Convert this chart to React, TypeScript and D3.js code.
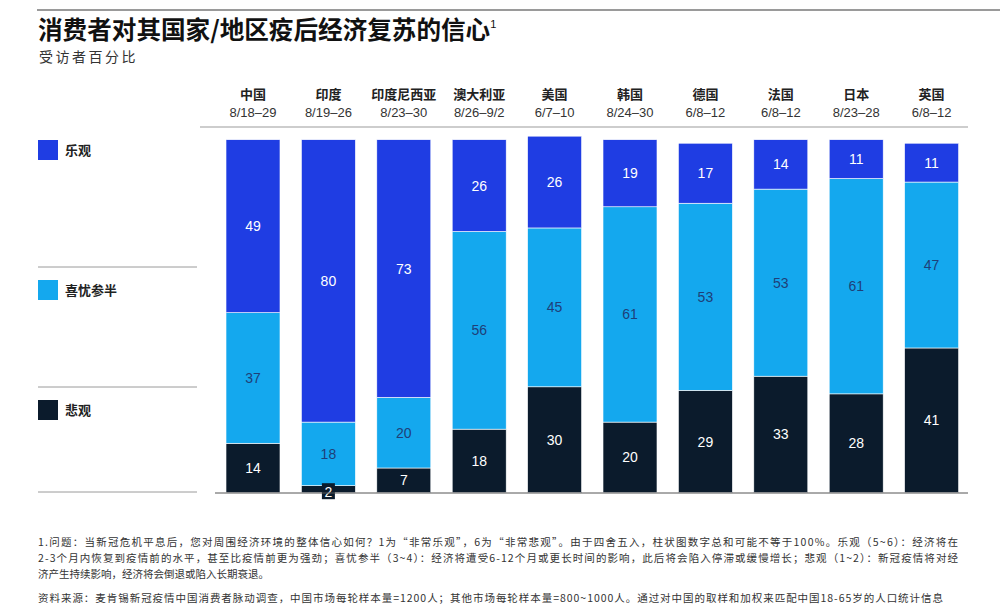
import React from "react";
import * as d3 from "d3";

const countries = ["中国", "印度", "印度尼西亚", "澳大利亚", "美国", "韩国", "德国", "法国", "日本", "英国"];
const dates = ["8/18–29", "8/19–26", "8/23–30", "8/26–9/2", "6/7–10", "8/24–30", "6/8–12", "6/8–12", "8/23–28", "6/8–12"];
const pessimistic = [14, 2, 7, 18, 30, 20, 29, 33, 28, 41];
const mixed = [37, 18, 20, 56, 45, 61, 53, 53, 61, 47];
const optimistic = [49, 80, 73, 26, 26, 19, 17, 14, 11, 11];
const seriesNames = ["乐观", "喜忧参半", "悲观"];
const footnotes = [
  "1.问题：当新冠危机平息后，您对周围经济环境的整体信心如何？1为“非常乐观”，6为“非常悲观”。由于四舍五入，柱状图数字总和可能不等于100%。乐观（5~6）：经济将在",
  "2-3个月内恢复到疫情前的水平，甚至比疫情前更为强劲；喜忧参半（3~4）：经济将遭受6-12个月或更长时间的影响，此后将会陷入停滞或缓慢增长；悲观（1~2）：新冠疫情将对经",
  "济产生持续影响，经济将会倒退或陷入长期衰退。",
];
const source = "资料来源：麦肯锡新冠疫情中国消费者脉动调查，中国市场每轮样本量=1200人；其他市场每轮样本量=800~1000人。通过对中国的取样和加权来匹配中国18-65岁的人口统计信息";

const COLORS = { opt: "#1f3de3", mix: "#14a8ee", pes: "#0b1b2c" };
const CJK = "'Noto Sans CJK SC', 'Noto Sans', sans-serif";
const LAT = "'Liberation Sans', Arial, sans-serif";

export default function App() {
  const x = d3.scaleBand<number>().domain(d3.range(countries.length)).range([215.3, 969.3]).paddingInner(0.284).paddingOuter(0.142);
  const y = d3.scaleLinear().domain([0, 100]).range([492.7, 139.7]);
  const bw = x.bandwidth();

  const segs: any[] = [];
  countries.forEach((_, i) => {
    const vals = [
      { v: pessimistic[i], c: COLORS.pes, t: "#ffffff", k: "pes" },
      { v: mixed[i], c: COLORS.mix, t: "#1f3f78", k: "mix" },
      { v: optimistic[i], c: COLORS.opt, t: "#ffffff", k: "opt" },
    ];
    let acc = 0;
    vals.forEach((s) => {
      segs.push({ i, y0: acc, y1: acc + s.v, ...s });
      acc += s.v;
    });
  });

  const legendTops = [140, 280, 400];
  const legendColors = [COLORS.opt, COLORS.mix, COLORS.pes];
  const sepYs = [267, 387, 492];

  return (
    <svg width={1000} height={612} style={{ position: "absolute", left: 0, top: 0, background: "#fff" }}>
      <line x1={37} x2={1000} y1={10} y2={10} stroke="#9a9a9a" strokeWidth={2} />
      <text x={38} y={39} fontFamily={CJK} fontWeight={700} fontSize={24.6} fill="#111">
        消费者对其国家/地区疫后经济复苏的信心
        <tspan fontSize={11} fontWeight={400} dy={-11} fontFamily={LAT}>1</tspan>
      </text>
      <text x={39} y={62} fontFamily={CJK} fontSize={14} letterSpacing={2.5} fill="#333">受访者百分比</text>

      {countries.map((c, i) => (
        <g key={c}>
          <text x={x(i)! + bw / 2} y={99} textAnchor="middle" fontFamily={CJK} fontWeight={700} fontSize={13} fill="#222">{c}</text>
          <text x={x(i)! + bw / 2} y={117} textAnchor="middle" fontFamily={LAT} fontSize={13} fill="#333">{dates[i]}</text>
        </g>
      ))}
      <line x1={200} x2={968} y1={127} y2={127} stroke="#bdbdbd" strokeWidth={1.5} />

      {seriesNames.map((n, k) => (
        <g key={n}>
          <rect x={38} y={legendTops[k]} width={20} height={20} fill={legendColors[k]} />
          <text x={65} y={legendTops[k] + 15} fontFamily={CJK} fontWeight={700} fontSize={13} fill="#222">{n}</text>
          <line x1={38} x2={197} y1={sepYs[k]} y2={sepYs[k]} stroke="#9a9a9a" strokeWidth={1} />
        </g>
      ))}

      {segs.map((s, j) => (
        <rect key={j} x={x(s.i)} y={y(s.y1)} width={bw} height={y(s.y0) - y(s.y1)} fill={s.c} stroke="#fff" strokeWidth={0.6} />
      ))}
      {segs.map((s, j) => {
        const cx = x(s.i)! + bw / 2;
        const h = y(s.y0) - y(s.y1);
        if (h < 15) {
          const cy = y(s.y0) - 1;
          return (
            <g key={"l" + j}>
              <rect x={cx - 6.5} y={cy - 8.5} width={13} height={16} fill={COLORS.pes} />
              <text x={cx} y={cy + 5} textAnchor="middle" fontFamily={LAT} fontSize={14} fill="#fff">{s.v}</text>
            </g>
          );
        }
        return (
          <text key={"l" + j} x={cx} y={(y(s.y0) + y(s.y1)) / 2 + 5} textAnchor="middle" fontFamily={LAT} fontSize={14} fill={s.t}>{s.v}</text>
        );
      })}
      <line x1={215} x2={968} y1={493} y2={493} stroke="#555" strokeWidth={1} />

      {footnotes.map((f, k) => (
        <text key={k} x={38} y={546 + k * 16} fontFamily={CJK} fontSize={10.5} fill="#333" textLength={k < 2 ? 920 : undefined} lengthAdjust="spacing">{f}</text>
      ))}
      <text x={38} y={602} fontFamily={CJK} fontSize={10.5} fill="#333" textLength={905} lengthAdjust="spacing">{source}</text>
    </svg>
  );
}
